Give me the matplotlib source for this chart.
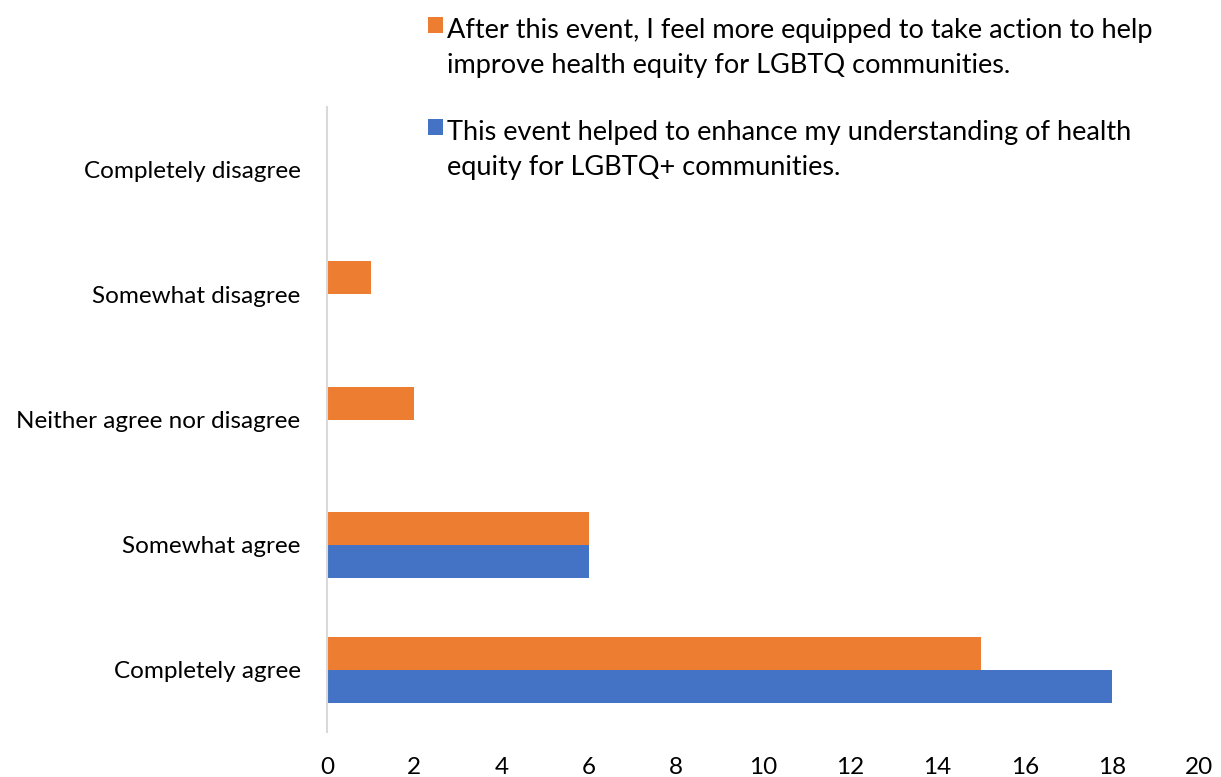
import numpy as np
import matplotlib
matplotlib.use("Agg")
import matplotlib.pyplot as plt
from matplotlib.patches import Rectangle
from matplotlib.legend_handler import HandlerPatch

categories = ["Completely agree", "Somewhat agree", "Neither agree nor disagree",
              "Somewhat disagree", "Completely disagree"]
understanding = [18, 6, 0, 0, 0]
equipped = [15, 6, 2, 1, 0]
xticks = [0, 2, 4, 6, 8, 10, 12, 14, 16, 18, 20]

label_blue = "This event helped to enhance my understanding of health\nequity for LGBTQ+ communities."
label_orange = "After this event, I feel more equipped to take action to help\nimprove health equity for LGBTQ communities."

plt.rcParams['font.family'] = ['Lato', 'DejaVu Sans']
FS = 17.5
LEG_FS = 19.5


class TopSquare(HandlerPatch):
    # put the legend square next to the first line of a two-line label
    def create_artists(self, legend, orig_handle, xdescent, ydescent,
                       width, height, fontsize, trans):
        color = orig_handle.patches[0].get_facecolor()
        p = Rectangle((-xdescent, -ydescent + 0.88 * fontsize), width, height,
                      facecolor=color, edgecolor='none', transform=trans)
        return [p]


fig = plt.figure(figsize=(12.21, 7.77), dpi=100)
ax = fig.add_axes([0.2678, 0.0579, 0.7142, 0.8044])

y = np.arange(len(categories))
h = 0.264
b1 = ax.barh(y - h / 2, understanding, height=h, color="#4472C4", label=label_blue)
b2 = ax.barh(y + h / 2, equipped, height=h, color="#ED7D31", label=label_orange)

ax.set_xlim(0, 20)
ax.set_ylim(-0.5, len(categories) - 0.5)
ax.set_yticks(y)
ax.set_yticklabels(categories, fontsize=FS)
ax.set_xticks(xticks)
ax.set_xticklabels([str(t) for t in xticks], fontsize=FS)
ax.tick_params(axis='both', length=0)
ax.tick_params(axis='y', pad=19)
ax.tick_params(axis='x', pad=18)
for s in ['top', 'right', 'bottom']:
    ax.spines[s].set_visible(False)
ax.spines['left'].set_color("#D9D9D9")
ax.spines['left'].set_linewidth(1.5)

leg = fig.legend([b2, b1], [label_orange, label_blue], loc='upper left',
                 bbox_to_anchor=(0.3395, 0.994), frameon=False, fontsize=LEG_FS,
                 borderpad=0, handlelength=0.55, handleheight=0.55, handletextpad=0.16,
                 labelspacing=1.55, handler_map={b1: TopSquare(), b2: TopSquare()})
for t in leg.get_texts():
    t.set_linespacing(1.5)

fig.savefig("out.png", dpi=100)
